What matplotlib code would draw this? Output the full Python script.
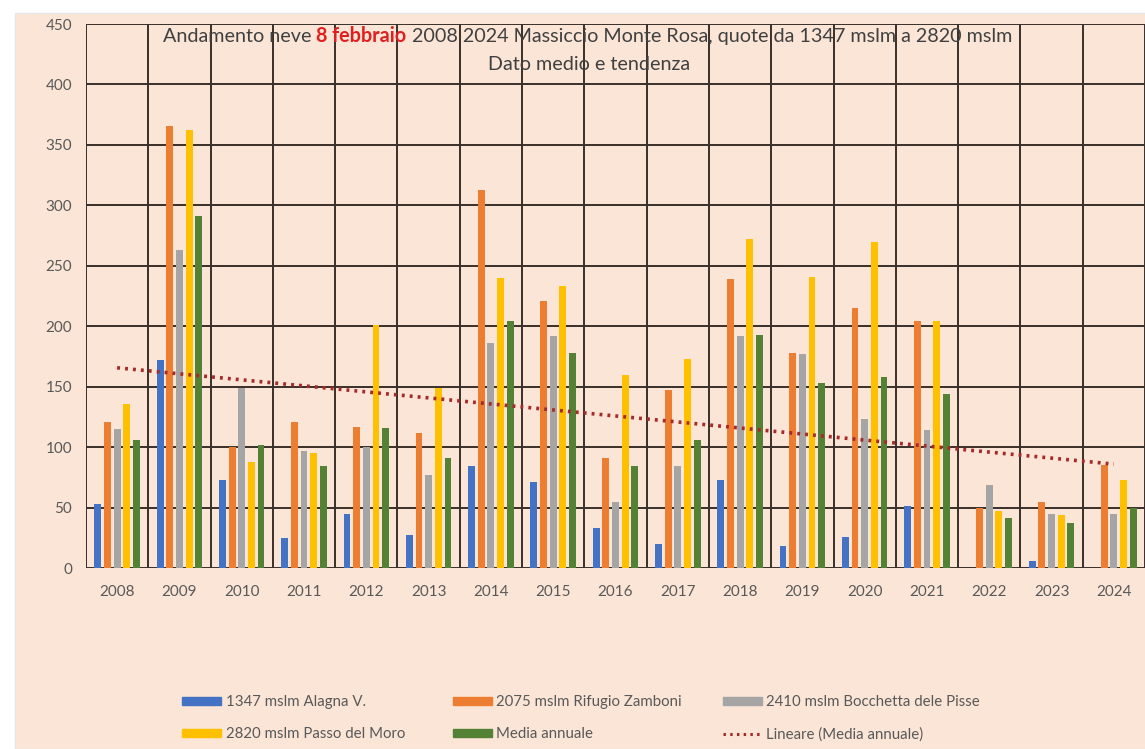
# %% Data

import numpy as np
import matplotlib.pyplot as plt
from matplotlib.patches import Patch, Rectangle
from matplotlib.lines import Line2D

years = [str(y) for y in range(2008, 2025)]

# Snow depth on 8 February [cm]
alagna = [53, 172, 73, 25, 45, 27, 84, 71, 33, 20, 73, 18, 26, 51, 0, 6, 0]
zamboni = [121, 366, 100, 121, 117, 112, 313, 221, 91, 147, 239, 178, 215, 204, 50, 55, 85]
bocchetta = [115, 263, 149, 97, 100, 77, 186, 192, 55, 84, 192, 177, 123, 114, 69, 45, 45]
moro = [136, 362, 88, 95, 201, 149, 240, 233, 160, 173, 272, 241, 270, 204, 47, 44, 73]
media = [106, 291, 102, 84, 116, 91, 204, 178, 84, 106, 193, 153, 158, 144, 41, 37, 50]

labels = [
    "1347 mslm Alagna V.",
    "2075 mslm Rifugio Zamboni",
    "2410 mslm Bocchetta dele Pisse",
    "2820 mslm Passo del Moro",
    "Media annuale",
]
colors = ["#4472C4", "#ED7D31", "#A5A5A5", "#FFC000", "#548235"]
series = [alagna, zamboni, bocchetta, moro, media]

# %% Figure

W, H = 1145, 749
bg = "#FBE5D6"
grid_c = "#3a2f29"
txt_c = "#595959"
plt.rcParams["font.family"] = ["Lato", "DejaVu Sans"]

fig = plt.figure(figsize=(W / 100, H / 100), dpi=100)
fig.patch.set_facecolor("white")
fig.add_artist(
    Rectangle((15 / W, 0), 1, 1 - 13 / H, transform=fig.transFigure,
              facecolor=bg, edgecolor="#e6e6e6", lw=1, zorder=-10)
)

ax = fig.add_axes([86 / W, 1 - 568 / H, (W - 86) / W, 544 / H])
ax.set_facecolor("none")

x = np.arange(len(years))
step, width = 0.155, 0.11
for i, (vals, lbl, c) in enumerate(zip(series, labels, colors)):
    ax.bar(x + (i - 2) * step, vals, width, color=c, label=lbl, zorder=3)

# Linear trend of the annual mean
k, q = np.polyfit(x, media, 1)
trend_c = "#A52A2A"
trend_ls = (0, (0.8, 1.4))
ax.plot(x, k * x + q, color=trend_c, lw=2.6, ls=trend_ls, zorder=4)

ax.set_xlim(-0.5, -0.5 + (W - 86) / 62.6)
ax.set_ylim(0, 450)
ax.set_yticks(np.arange(0, 451, 50))
ax.set_xticks(x)
ax.set_xticklabels(years)
ax.set_xticks(np.arange(-0.5, len(years) + 0.5, 1), minor=True)
ax.grid(axis="y", which="major", color=grid_c, lw=1.4, zorder=1)
ax.grid(axis="x", which="minor", color=grid_c, lw=1.4, zorder=1)
ax.tick_params(which="both", length=0, colors=txt_c, labelsize=11)
ax.tick_params(axis="x", pad=12)
ax.tick_params(axis="y", pad=10)
for s in ax.spines.values():
    s.set_visible(False)

# %% Title, in three pieces for the red bold date (shared baseline)

tc = "#404040"
tfs = 14.2
ty = 1 - 42 / H
pieces = [
    ("Andamento neve", tc, "normal"),
    ("8 febbraio", "#E02020", "bold"),
    ("2008 2024 Massiccio Monte Rosa, quote da 1347 mslm a 2820 mslm", tc, "normal"),
]
x_px = 163
for s, c, fw in pieces:
    t = fig.text(x_px / W, ty, s, fontsize=tfs, color=c, fontweight=fw, va="baseline")
    fig.canvas.draw()
    x_px = t.get_window_extent().x1 + 5
fig.text(589 / W, 1 - 64 / H, "Dato medio e tendenza", fontsize=tfs,
         color=tc, ha="center", va="center")

# %% Legend: three columns, each placed where the reference has it

h = [Patch(color=c) for c in colors]
trend_h = Line2D([], [], color=trend_c, lw=2.2, ls=trend_ls)
columns = [
    ([h[0], h[3]], [labels[0], labels[3]], 182),
    ([h[1], h[4]], [labels[1], labels[4]], 453),
    ([h[2], trend_h], [labels[2], "Lineare (Media annuale)"], 723),
]
for hs, ns, x0 in columns:
    fig.legend(hs, ns, loc="upper left", bbox_to_anchor=(x0 / W, 1 - 695 / H),
               frameon=False, fontsize=10.8, labelcolor=txt_c, handlelength=2.6,
               handleheight=0.45, handletextpad=0.3, labelspacing=1.2,
               borderaxespad=0, borderpad=0)

fig.savefig("out.png", dpi=100, facecolor=fig.get_facecolor())
